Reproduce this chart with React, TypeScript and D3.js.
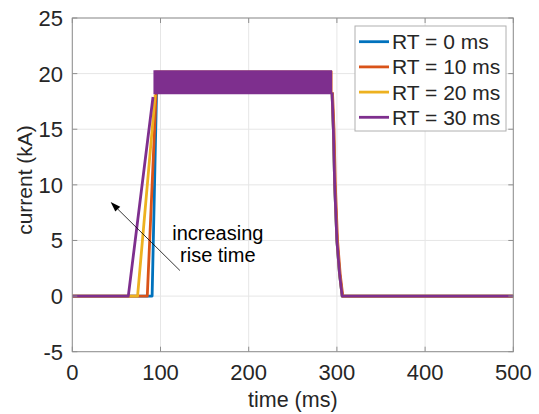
import React from "react";
import * as d3 from "d3";

type Pt = [number, number];

// ---- data ----
const seriesLabels = ["RT = 0 ms", "RT = 10 ms", "RT = 20 ms", "RT = 30 ms"];
const seriesColors = ["#0072BD", "#D95319", "#EDB120", "#7E2F8E"];

// rising edge points (time ms, current kA)
const riseRT0: Pt[] = [[0, 0], [90.5, 0], [95.5, 18.3]];
const riseRT10: Pt[] = [[0, 0], [85, 0], [95, 18.2]];
const riseRT20: Pt[] = [[0, 0], [74, 0], [94, 18.1]];
const riseRT30: Pt[] = [[0, 0], [63.5, 0], [91.5, 17.9]];

// plateau ripple envelope: [start ms, end ms, low kA, high kA]
const plateauRT0 = [95, 294.5, 18.25, 20.2];
const plateauRT10 = [94, 295, 18.2, 20.25];
const plateauRT20 = [93.5, 294.5, 18.2, 20.25];
const plateauRT30 = [92, 294.5, 18.15, 20.3];

// falling edge points
const fallRT0: Pt[] = [[294.5, 18.3], [296, 15], [297.5, 10], [300, 5], [303, 2], [306, 0], [500, 0]];
const fallRT10: Pt[] = [[295, 18.3], [296.7, 15], [298.2, 10], [300.7, 5], [303.7, 2], [306.7, 0], [500, 0]];
const fallRT20: Pt[] = [[294.5, 18.3], [296, 15], [297.5, 10], [300, 5], [303, 2], [306, 0], [500, 0]];
const fallRT30: Pt[] = [[294.5, 18.3], [296, 15], [297.5, 10], [300, 5], [303, 2], [306, 0], [500, 0]];

const rises = [riseRT0, riseRT10, riseRT20, riseRT30];
const plateaus = [plateauRT0, plateauRT10, plateauRT20, plateauRT30];
const falls = [fallRT0, fallRT10, fallRT20, fallRT30];

const xTicks = [0, 100, 200, 300, 400, 500];
const yTicks = [-5, 0, 5, 10, 15, 20, 25];

// annotation arrow (data coords): tail -> head
const arrowTail: Pt = [122, 2.3];
const arrowHead: Pt = [43.5, 8.45];
const annotationLines = ["increasing", "rise time"];
const annotationPos: Pt = [165, 5.0];

export default function App() {
  const W = 539, H = 414;
  const x = d3.scaleLinear().domain([0, 500]).range([72.3, 513.3]);
  const y = d3.scaleLinear().domain([-5, 25]).range([351.7, 18]);
  const [x0, x1] = x.range();
  const [yb, yt] = y.range();
  const line = d3.line<Pt>().x((d) => x(d[0])).y((d) => y(d[1]));
  const font = "'Liberation Sans', Arial, Helvetica, sans-serif";
  const axisColor = "#8f8f8f";
  const textColor = "#262626";
  const tickLen = 5;

  const hx = x(arrowHead[0]), hy = y(arrowHead[1]);
  const tx = x(arrowTail[0]), ty = y(arrowTail[1]);
  const ang = Math.atan2(hy - ty, hx - tx);
  const aL = 10, aW = 3.5;
  const bx = hx - aL * Math.cos(ang), by = hy - aL * Math.sin(ang);
  const headPts = [
    [hx, hy],
    [bx + aW * Math.sin(ang), by - aW * Math.cos(ang)],
    [bx - aW * Math.sin(ang), by + aW * Math.cos(ang)],
  ].map((p) => p.join(",")).join(" ");

  const legX = 355, legY = 26, legW = 151, legH = 105, legRow = 25.2;

  return (
    <svg width={W} height={H} style={{ position: "absolute", left: 0, top: 0, background: "#fff" }} fontFamily={font}>
      <rect x={0} y={0} width={W} height={H} fill="#fff" />
      {/* grid */}
      {xTicks.map((t) => (
        <line key={"gx" + t} x1={x(t)} x2={x(t)} y1={yt} y2={yb} stroke="#e6e6e6" strokeWidth={1} />
      ))}
      {yTicks.map((t) => (
        <line key={"gy" + t} x1={x0} x2={x1} y1={y(t)} y2={y(t)} stroke="#e6e6e6" strokeWidth={1} />
      ))}

      {/* series */}
      {seriesLabels.map((lab, i) => {
        const p = plateaus[i];
        const xs = [p[0], p[1]];
        const band = d3
          .area<number>()
          .x((d) => x(d))
          .y0(() => y(p[2]))
          .y1(() => y(p[3]));
        return (
          <g key={lab}>
            <path d={band(xs) || ""} fill={seriesColors[i]} />
            <path d={line(rises[i]) || ""} fill="none" stroke={seriesColors[i]} strokeWidth={2.8} strokeLinejoin="round" />
            <path d={line(falls[i]) || ""} fill="none" stroke={seriesColors[i]} strokeWidth={2.8} strokeLinejoin="round" />
          </g>
        );
      })}

      {/* axes box */}
      <rect x={x0} y={yt} width={x1 - x0} height={yb - yt} fill="none" stroke={axisColor} strokeWidth={1} />
      {xTicks.map((t) => (
        <g key={"tx" + t}>
          <line x1={x(t)} x2={x(t)} y1={yb} y2={yb - tickLen} stroke={axisColor} />
          <line x1={x(t)} x2={x(t)} y1={yt} y2={yt + tickLen} stroke={axisColor} />
          <text x={x(t)} y={380} textAnchor="middle" fontSize={22} fill={textColor}>
            {t}
          </text>
        </g>
      ))}
      {yTicks.map((t) => (
        <g key={"ty" + t}>
          <line x1={x0} x2={x0 + tickLen} y1={y(t)} y2={y(t)} stroke={axisColor} />
          <line x1={x1} x2={x1 - tickLen} y1={y(t)} y2={y(t)} stroke={axisColor} />
          <text x={63} y={y(t)} dy="0.36em" textAnchor="end" fontSize={22} fill={textColor}>
            {t}
          </text>
        </g>
      ))}

      {/* axis labels */}
      <text x={(x0 + x1) / 2} y={407} textAnchor="middle" fontSize={21.5} fill={textColor}>
        time (ms)
      </text>
      <text transform={`translate(32,180) rotate(-90)`} textAnchor="middle" fontSize={21} fill={textColor}>
        current (kA)
      </text>

      {/* annotation */}
      <line x1={tx} y1={ty} x2={bx} y2={by} stroke="#000" strokeWidth={0.8} />
      <polygon points={headPts} fill="#000" />
      {annotationLines.map((s, k) => (
        <text key={s} x={x(annotationPos[0])} y={y(annotationPos[1]) + k * 22} textAnchor="middle" fontSize={20} fill="#000">
          {s}
        </text>
      ))}

      {/* legend */}
      <rect x={legX} y={legY} width={legW} height={legH} fill="#fff" stroke="#b0b0b0" strokeWidth={1} />
      {seriesLabels.map((lab, i) => {
        const cy = legY + 15.7 + i * legRow;
        return (
          <g key={"lg" + lab}>
            <line x1={359} x2={389} y1={cy} y2={cy} stroke={seriesColors[i]} strokeWidth={2.8} />
            <text x={392} y={cy} dy="0.36em" fontSize={21} fill={textColor}>
              {lab}
            </text>
          </g>
        );
      })}
    </svg>
  );
}
